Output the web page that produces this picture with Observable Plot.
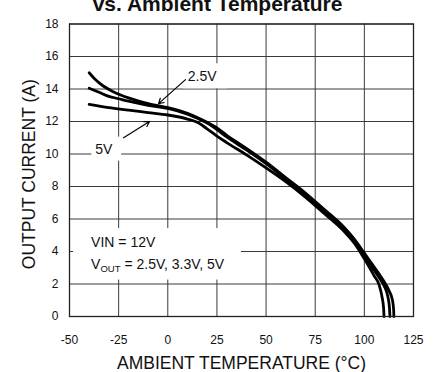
<!DOCTYPE html>
<html><head><meta charset="utf-8">
<script src="https://cdn.jsdelivr.net/npm/d3@7"></script>
<script src="https://cdn.jsdelivr.net/npm/@observablehq/plot@0.6"></script>
<style>
body{margin:0;background:#fff;}
#chart svg{display:block;overflow:visible;}
</style></head><body><div id="chart"></div>
<script>
// ---- data ----
const titleText = "vs. Ambient Temperature";
const xLabel = "AMBIENT TEMPERATURE (°C)";
const yLabel = "OUTPUT CURRENT (A)";
const xTicks = [-50, -25, 0, 25, 50, 75, 100, 125];
const yTicks = [0, 2, 4, 6, 8, 10, 12, 14, 16, 18];

const temp25 = [-40, -37, -33, -28, -20, -10, 0, 10, 15, 20, 25, 30, 40, 50, 60, 70, 80, 90, 95, 100, 105, 110, 112.5, 114.3, 114.9, 115];
const cur25  = [15.0, 14.6, 14.2, 13.85, 13.45, 13.1, 12.85, 12.5, 12.25, 11.95, 11.6, 11.15, 10.35, 9.5, 8.55, 7.6, 6.55, 5.45, 4.75, 3.9, 3.05, 2.15, 1.6, 1.0, 0.4, 0];
const temp33 = [-40, -35, -30, -25, -20, -10, 0, 10, 15, 20, 25, 30, 40, 50, 60, 70, 80, 90, 95, 100, 105, 108, 110, 112, 112.8, 113];
const cur33  = [14.05, 13.8, 13.55, 13.4, 13.25, 13.0, 12.8, 12.45, 12.2, 11.9, 11.5, 11.05, 10.25, 9.4, 8.45, 7.5, 6.45, 5.35, 4.65, 3.75, 2.85, 2.3, 1.9, 1.2, 0.5, 0];
const temp50 = [-40, -30, -20, -10, 0, 10, 15, 20, 25, 30, 40, 50, 60, 70, 80, 90, 95, 100, 105, 107.5, 109, 109.8, 110];
const cur50  = [13.05, 12.85, 12.7, 12.55, 12.4, 12.15, 11.95, 11.55, 11.1, 10.7, 9.95, 9.15, 8.3, 7.35, 6.3, 5.2, 4.5, 3.55, 2.5, 1.95, 1.2, 0.5, 0];

const seriesNames = ["2.5V", "3.3V", "5V"];
const seriesTemps = [temp25, temp33, temp50];
const seriesCurs = [cur25, cur33, cur50];

// annotations (data units)
const labelText = ["2.5V", "5V"];
const labelX = [17.5, -32.5];
const labelY = [14.75, 10.3];
const arrowX1 = [9.0, -22.5];
const arrowY1 = [14.58, 11.0];
const arrowX2 = [-4.7, -9.3];
const arrowY2 = [13.1, 12.0];
const noteLines = ["VIN = 12V", "VOUT = 2.5V, 3.3V, 5V"];
const noteX = [-39, -39];
const noteY = [4.27, 2.95];

// ---- build table ----
const rows = [];
seriesNames.forEach((s, i) => seriesTemps[i].forEach((t, j) => rows.push({series: s, t, c: seriesCurs[i][j]})));
const labels = labelText.map((txt, i) => ({txt, x: labelX[i], y: labelY[i]}));
const arrows = arrowX1.map((x1, i) => ({x1, y1: arrowY1[i], x2: arrowX2[i], y2: arrowY2[i]}));
const notes = noteLines.map((txt, i) => ({txt, x: noteX[i], y: noteY[i]}));

const FONT = "'Liberation Sans', Arial, Helvetica, sans-serif";
const fmt = d => String(d);

const svg = Plot.plot({
  width: 438,
  height: 372,
  marginLeft: 69,
  marginRight: 25,
  marginTop: 23.5,
  marginBottom: 56,
  style: {fontFamily: FONT, background: "#fff", color: "#111"},
  x: {domain: [-50, 125], ticks: xTicks},
  y: {domain: [0, 18], ticks: yTicks},
  marks: [
    Plot.gridX(xTicks, {stroke: "#3a3a3a", strokeOpacity: 1, strokeWidth: 1}),
    Plot.gridY(yTicks, {stroke: "#3a3a3a", strokeOpacity: 1, strokeWidth: 1}),
    Plot.line(rows, {x: "t", y: "c", z: "series", stroke: "#000", strokeWidth: 2.8, curve: "monotone-x"}),
    Plot.arrow(arrows, {x1: "x1", y1: "y1", x2: "x2", y2: "y2", stroke: "#000", strokeWidth: 1.2, headLength: 7, bend: 0}),
    Plot.text(labels, {x: "x", y: "y", text: "txt", fontSize: 14, fill: "#111", className: "anno"}),
    Plot.text(notes, {x: "x", y: "y", text: "txt", fontSize: 14, fill: "#111", textAnchor: "start", lineAnchor: "bottom", className: "note"}),
    Plot.frame({stroke: "#222", strokeWidth: 1.3}),
    Plot.axisX(xTicks, {tickSize: 0, tickPadding: 19, fontSize: 12, label: null, fill: "#111", tickFormat: fmt}),
    Plot.axisY(yTicks, {tickSize: 0, tickPadding: 11, fontSize: 12, label: null, fill: "#111", tickFormat: fmt}),
    Plot.text([xLabel], {frameAnchor: "bottom", dy: 52, lineAnchor: "bottom", fontSize: 17.5, fill: "#111"}),
    Plot.text([yLabel], {frameAnchor: "left", textAnchor: "middle", dx: -40, dy: 4, rotate: -90, fontSize: 17.5, fill: "#111"}),
    Plot.text([titleText], {frameAnchor: "top", dx: -24, dy: -13.5, lineAnchor: "bottom", fontSize: 21, fontWeight: "bold", fill: "#111"})
  ]
});
document.getElementById("chart").append(svg);

// subscript for V_OUT
svg.querySelectorAll("text").forEach(t => {
  const s = t.textContent;
  if (s.startsWith("VOUT")) {
    while (t.firstChild) t.removeChild(t.firstChild);
    const ns = "http://www.w3.org/2000/svg";
    const a = document.createElementNS(ns, "tspan"); a.textContent = "V";
    const b = document.createElementNS(ns, "tspan"); b.textContent = "OUT";
    b.setAttribute("font-size", "9.5"); b.setAttribute("dy", "3");
    const c = document.createElementNS(ns, "tspan"); c.textContent = " = 2.5V, 3.3V, 5V"; c.setAttribute("dy", "-3");
    t.append(a, b, c);
  }
});

// white boxes behind annotations (from their rendered extents)
const svgRect = svg.getBoundingClientRect();
function boxFor(els, pad) {
  let x0 = Infinity, y0 = Infinity, x1 = -Infinity, y1 = -Infinity;
  els.forEach(e => {
    const r = e.getBoundingClientRect();
    x0 = Math.min(x0, r.left - svgRect.left); y0 = Math.min(y0, r.top - svgRect.top);
    x1 = Math.max(x1, r.right - svgRect.left); y1 = Math.max(y1, r.bottom - svgRect.top);
  });
  const rect = document.createElementNS("http://www.w3.org/2000/svg", "rect");
  rect.setAttribute("x", x0 - pad[0]); rect.setAttribute("y", y0 - pad[1]);
  rect.setAttribute("width", x1 - x0 + pad[0] + pad[2]); rect.setAttribute("height", y1 - y0 + pad[1] + pad[3]);
  rect.setAttribute("fill", "#fff");
  return rect;
}
const annoTexts = [...svg.querySelectorAll(".anno text")];
const noteTexts = [...svg.querySelectorAll(".note text")];
const boxes = [];
annoTexts.forEach(t => boxes.push(boxFor([t], t.textContent === "2.5V" ? [5, 5, 10, 4] : [4, 4, 8, 4])));
if (noteTexts.length) boxes.push(boxFor(noteTexts, [18, 6, 16, 6]));
const lineG = svg.querySelector('g[aria-label="line"]');
boxes.forEach(r => lineG.parentNode.insertBefore(r, lineG));
</script></body></html>
